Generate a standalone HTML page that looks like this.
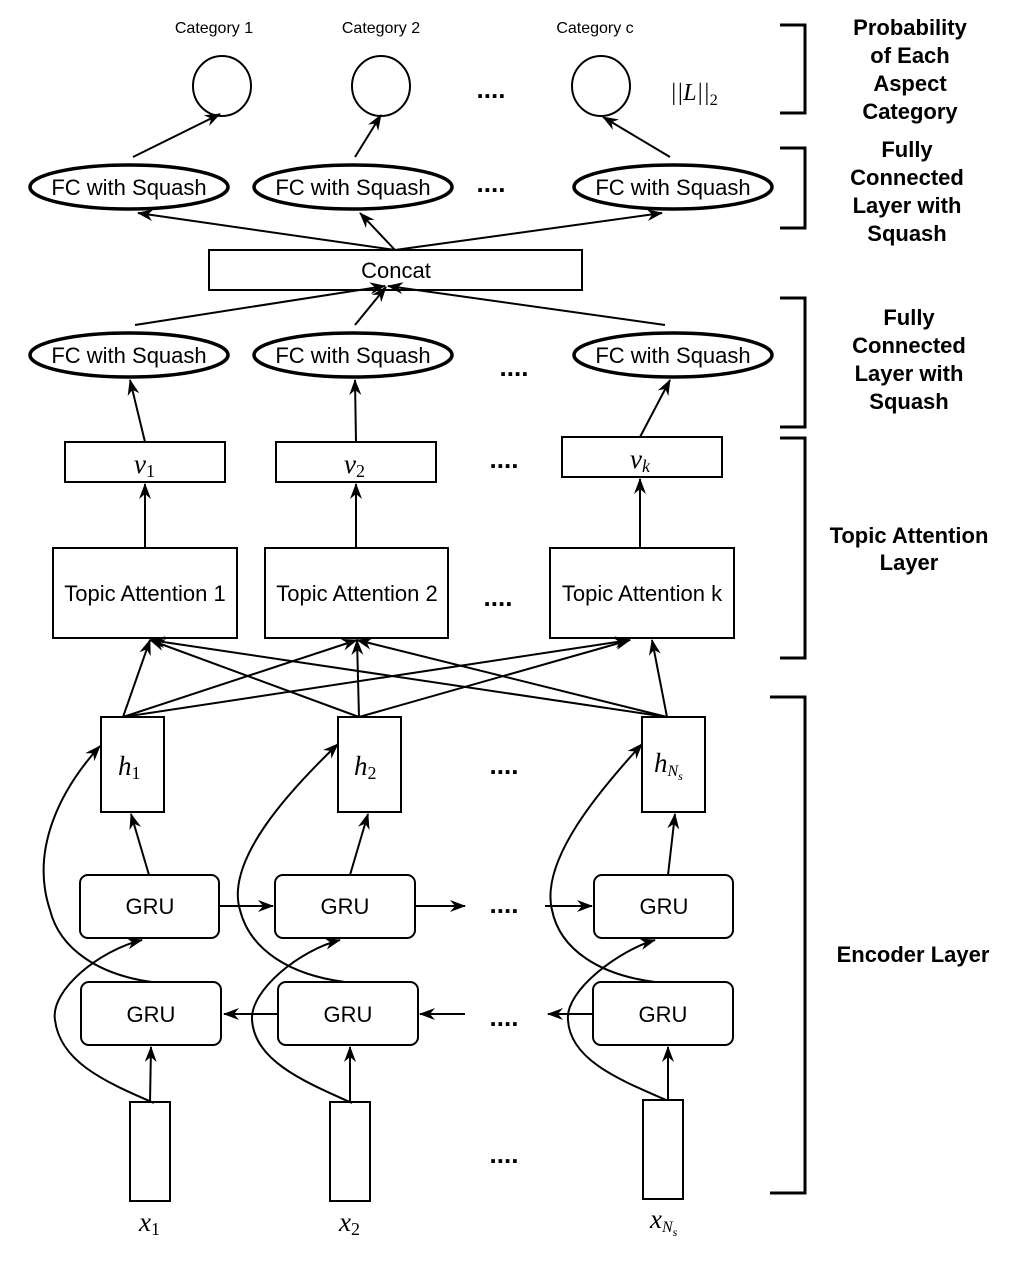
<!DOCTYPE html>
<html><head><style>
html,body{margin:0;padding:0;background:#fff}
svg{display:block}
text{font-family:"Liberation Sans",sans-serif;fill:#000}
.s text,text.s{font-family:"Liberation Serif",serif;font-style:italic}
.b text{font-weight:bold;font-size:22px}
</style></head><body>
<svg width="1018" height="1265" viewBox="0 0 1018 1265" xmlns="http://www.w3.org/2000/svg">
<defs><marker id="a" viewBox="0 0 16 12" refX="15" refY="6" markerWidth="16" markerHeight="12" markerUnits="userSpaceOnUse" orient="auto"><path d="M0,0 L16,6 L0,12 L5,6 z" fill="#000"/></marker></defs>
<g fill="none" stroke="#000" stroke-width="2">
<ellipse cx="222" cy="86" rx="29" ry="30"/>
<ellipse cx="381" cy="86" rx="29" ry="30"/>
<ellipse cx="601" cy="86" rx="29" ry="30"/>
<g stroke-width="3.5">
<ellipse cx="129" cy="187" rx="99" ry="22"/>
<ellipse cx="353" cy="187" rx="99" ry="22"/>
<ellipse cx="673" cy="187" rx="99" ry="22"/>
<ellipse cx="129" cy="355" rx="99" ry="22"/>
<ellipse cx="353" cy="355" rx="99" ry="22"/>
<ellipse cx="673" cy="355" rx="99" ry="22"/>
</g>
<rect x="209" y="250" width="373" height="40"/>
<rect x="65" y="442" width="160" height="40"/>
<rect x="276" y="442" width="160" height="40"/>
<rect x="562" y="437" width="160" height="40"/>
<rect x="53" y="548" width="184" height="90"/>
<rect x="265" y="548" width="183" height="90"/>
<rect x="550" y="548" width="184" height="90"/>
<rect x="101" y="717" width="63" height="95"/>
<rect x="338" y="717" width="63" height="95"/>
<rect x="642" y="717" width="63" height="95"/>
<rect x="80" y="875" width="139" height="63" rx="8"/>
<rect x="275" y="875" width="140" height="63" rx="8"/>
<rect x="594" y="875" width="139" height="63" rx="8"/>
<rect x="81" y="982" width="140" height="63" rx="8"/>
<rect x="278" y="982" width="140" height="63" rx="8"/>
<rect x="593" y="982" width="140" height="63" rx="8"/>
<rect x="130" y="1102" width="40" height="99"/>
<rect x="330" y="1102" width="40" height="99"/>
<rect x="643" y="1100" width="40" height="99"/>
<g stroke-width="3">
<path d="M780,25 H805 V113 H780"/>
<path d="M780,148 H805 V228 H780"/>
<path d="M780,298 H805 V427 H780"/>
<path d="M780,438 H805 V658 H780"/>
<path d="M770,697 H805 V1193 H770"/>
</g>
<g marker-end="url(#a)">
<path d="M133,157 L220,114"/>
<path d="M355,157 L381,115"/>
<path d="M670,157 L603,117"/>
<path d="M395,250 L138,213"/>
<path d="M395,250 L360,213"/>
<path d="M395,250 L662,213"/>
<path d="M135,325 L385,286"/>
<path d="M355,325 L386,287"/>
<path d="M665,325 L388,286"/>
<path d="M145,442 L130,380"/>
<path d="M356,442 L355,380"/>
<path d="M640,437 L670,380"/>
<path d="M145,548 L145,484"/>
<path d="M356,548 L356,484"/>
<path d="M640,548 L640,479"/>
<path d="M123,717 L150,640"/><path d="M123,717 L357,640"/><path d="M123,717 L630,640"/>
<path d="M359,717 L150,640"/><path d="M359,717 L357,640"/><path d="M359,717 L630,640"/>
<path d="M667,717 L150,640"/><path d="M667,717 L357,640"/><path d="M667,717 L652,640"/>
<path d="M149,875 L131,814"/>
<path d="M350,875 L368,814"/>
<path d="M668,875 L675,814"/>
<path d="M219,906 L273,906"/>
<path d="M415,906 L465,906"/>
<path d="M545,906 L592,906"/>
<path d="M278,1014 L224,1014"/>
<path d="M465,1014 L420,1014"/>
<path d="M593,1014 L548,1014"/>
<path d="M150,1102 L151,1047"/>
<path d="M350,1102 L350,1047"/>
<path d="M668,1100 L668,1047"/>
<path d="M154,1103 C100,1080 60,1060 55,1020 C50,990 100,950 142,940"/>
<path d="M352,1103 C300,1080 255,1060 252,1020 C250,990 300,950 340,940"/>
<path d="M666,1100 C620,1080 570,1060 568,1020 C565,990 620,950 655,940"/>
<path d="M152,982 C100,975 60,950 50,910 C30,850 60,790 100,746"/>
<path d="M345,982 C290,975 250,950 240,910 C225,860 290,790 338,744"/>
<path d="M655,982 C600,975 560,950 552,910 C540,860 600,790 642,744"/>
</g>
</g>
<g font-size="16" text-anchor="middle">
<text x="214" y="33">Category 1</text>
<text x="381" y="33">Category 2</text>
<text x="595" y="33">Category c</text>
</g>
<text class="s" x="670" y="100" font-size="24">||L||<tspan font-size="16" font-style="normal" dy="5">2</tspan></text>
<g font-size="22" text-anchor="middle">
<text x="129" y="195">FC with Squash</text>
<text x="353" y="195">FC with Squash</text>
<text x="673" y="195">FC with Squash</text>
<text x="129" y="363">FC with Squash</text>
<text x="353" y="363">FC with Squash</text>
<text x="673" y="363">FC with Squash</text>
<text x="396" y="278">Concat</text>
<text x="145" y="601">Topic Attention 1</text>
<text x="357" y="601">Topic Attention 2</text>
<text x="642" y="601">Topic Attention k</text>
<text x="150" y="914">GRU</text>
<text x="345" y="914">GRU</text>
<text x="664" y="914">GRU</text>
<text x="151" y="1022">GRU</text>
<text x="348" y="1022">GRU</text>
<text x="663" y="1022">GRU</text>
</g>
<g font-size="26" font-weight="bold" text-anchor="middle">
<text x="491" y="98">....</text>
<text x="491" y="192">....</text>
<text x="514" y="376">....</text>
<text x="504" y="468">....</text>
<text x="498" y="606">....</text>
<text x="504" y="774">....</text>
<text x="504" y="913">....</text>
<text x="504" y="1026">....</text>
<text x="504" y="1163">....</text>
</g>
<g class="s" font-size="27">
<text x="134" y="473">v<tspan font-size="18" font-style="normal" dy="4">1</tspan></text>
<text x="344" y="473">v<tspan font-size="18" font-style="normal" dy="4">2</tspan></text>
<text x="630" y="468">v<tspan font-size="18" dy="4">k</tspan></text>
<text x="118" y="775">h<tspan font-size="18" font-style="normal" dy="4">1</tspan></text>
<text x="354" y="775">h<tspan font-size="18" font-style="normal" dy="4">2</tspan></text>
<text x="654" y="772">h<tspan font-size="16" dy="4">N</tspan><tspan font-size="12" dy="4">s</tspan></text>
<text x="139" y="1231">x<tspan font-size="18" font-style="normal" dy="4">1</tspan></text>
<text x="339" y="1231">x<tspan font-size="18" font-style="normal" dy="4">2</tspan></text>
<text x="650" y="1228">x<tspan font-size="16" dy="4">N</tspan><tspan font-size="12" dy="4">s</tspan></text>
</g>
<g class="b" text-anchor="middle">
<text x="910" y="35">Probability</text>
<text x="910" y="63">of Each</text>
<text x="910" y="91">Aspect</text>
<text x="910" y="119">Category</text>
<text x="907" y="157">Fully</text>
<text x="907" y="185">Connected</text>
<text x="907" y="213">Layer with</text>
<text x="907" y="241">Squash</text>
<text x="909" y="325">Fully</text>
<text x="909" y="353">Connected</text>
<text x="909" y="381">Layer with</text>
<text x="909" y="409">Squash</text>
<text x="909" y="543">Topic Attention</text>
<text x="909" y="570">Layer</text>
<text x="913" y="962">Encoder Layer</text>
</g>
</svg>
</body></html>
